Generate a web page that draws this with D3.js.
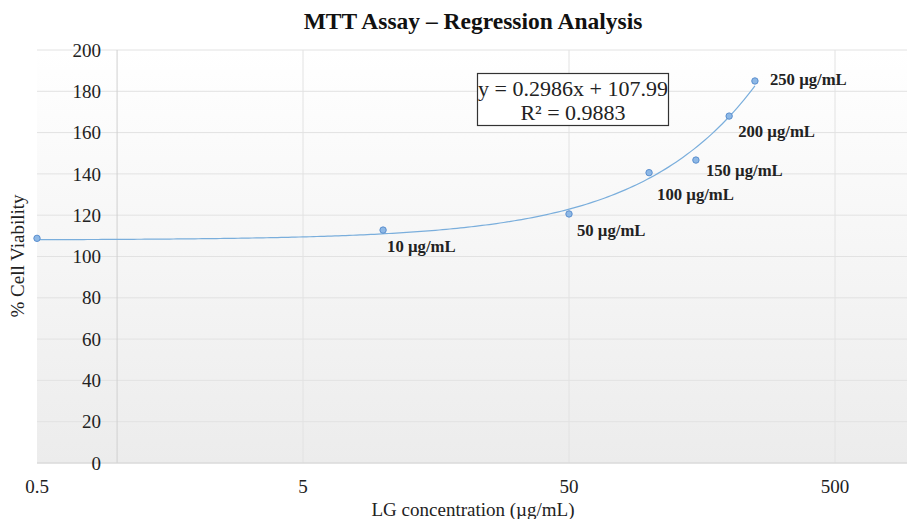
<!DOCTYPE html>
<html>
<head>
<meta charset="utf-8">
<script src="https://cdn.jsdelivr.net/npm/d3@7"></script>
<style>
  body { margin: 0; background: #fff; }
  svg { display: block; font-family: "Liberation Serif", "Times New Roman", serif; }
</style>
</head>
<body>
<script>
// MTT assay - viability vs concentration, log x axis

var concentrations = [0.5, 10, 50, 100, 150, 200, 250];
var viability = [108.8, 112.8, 120.6, 140.6, 146.7, 168.0, 185.0];
var pointLabels = ["", "10 µg/mL", "50 µg/mL", "100 µg/mL", "150 µg/mL", "200 µg/mL", "250 µg/mL"];
var xTicks = [0.5, 5, 50, 500];
var yTicks = [0, 20, 40, 60, 80, 100, 120, 140, 160, 180, 200];
var slope = 0.2986, intercept = 107.99, r2 = 0.9883;

var width = 907, height = 519;
var plotLeft = 37, plotTop = 50, plotBottom = 463;

var svg = d3.select("body").append("svg")
    .attr("width", width)
    .attr("height", height);

var x = d3.scaleLog().domain([0.5, 5000]).range([plotLeft, plotLeft + 4 * 266]);
var y = d3.scaleLinear().domain([0, 200]).range([plotBottom, plotTop]);

var defs = svg.append("defs");
var grad = defs.append("linearGradient")
    .attr("id", "bg").attr("x1", 0).attr("y1", 0).attr("x2", 0).attr("y2", 1);
grad.append("stop").attr("offset", "0%").attr("stop-color", "#ffffff");
grad.append("stop").attr("offset", "100%").attr("stop-color", "#ececec");

svg.append("rect")
    .attr("x", plotLeft).attr("y", plotTop)
    .attr("width", width - plotLeft).attr("height", plotBottom - plotTop)
    .attr("fill", "url(#bg)");

// horizontal gridlines
svg.append("g").selectAll("line")
  .data(yTicks)
  .enter().append("line")
    .attr("x1", plotLeft).attr("x2", width)
    .attr("y1", function(d) { return y(d); })
    .attr("y2", function(d) { return y(d); })
    .attr("stroke", "#e2e2e2").attr("stroke-width", 1);

// vertical gridlines
svg.append("g").selectAll("line")
  .data(xTicks.slice(1))
  .enter().append("line")
    .attr("x1", function(d) { return x(d); })
    .attr("x2", function(d) { return x(d); })
    .attr("y1", plotTop).attr("y2", plotBottom)
    .attr("stroke", "#e2e2e2").attr("stroke-width", 1);

// value axis crosses at x = 1
svg.append("line")
    .attr("x1", x(1)).attr("x2", x(1))
    .attr("y1", plotTop).attr("y2", plotBottom)
    .attr("stroke", "#d0d0d0");

svg.append("line")
    .attr("x1", plotLeft).attr("x2", width)
    .attr("y1", plotBottom).attr("y2", plotBottom)
    .attr("stroke", "#d6d6d6");

// y tick labels
svg.append("g").selectAll("text")
  .data(yTicks)
  .enter().append("text")
    .attr("x", x(1) - 16)
    .attr("y", function(d) { return y(d); })
    .attr("dy", "0.35em")
    .attr("text-anchor", "end")
    .attr("font-size", 19)
    .attr("fill", "#222")
    .text(function(d) { return d; });

// x tick labels
svg.append("g").selectAll("text")
  .data(xTicks)
  .enter().append("text")
    .attr("x", function(d) { return x(d); })
    .attr("y", 493)
    .attr("text-anchor", "middle")
    .attr("font-size", 19)
    .attr("fill", "#222")
    .text(function(d) { return d; });

svg.append("text")
    .attr("x", 473).attr("y", 29)
    .attr("text-anchor", "middle")
    .attr("font-size", 23.5)
    .attr("font-weight", "bold")
    .attr("fill", "#111")
    .text("MTT Assay – Regression Analysis");

svg.append("text")
    .attr("x", 473).attr("y", 516)
    .attr("text-anchor", "middle")
    .attr("font-size", 19)
    .attr("fill", "#222")
    .text("LG concentration (µg/mL)");

svg.append("text")
    .attr("transform", "translate(24,256) rotate(-90)")
    .attr("text-anchor", "middle")
    .attr("font-size", 19)
    .attr("fill", "#222")
    .text("% Cell Viability");

// linear trendline drawn over log axis
var trendX = d3.range(0, 201).map(function(i) {
  return Math.exp(Math.log(0.5) + i / 200 * (Math.log(250) - Math.log(0.5)));
});
var line = d3.line()
    .x(function(d) { return x(d); })
    .y(function(d) { return y(slope * d + intercept); });

svg.append("path")
    .datum(trendX)
    .attr("d", line)
    .attr("fill", "none")
    .attr("stroke", "#7aaedc")
    .attr("stroke-width", 1.2);

var pts = concentrations.map(function(c, i) {
  return {c: c, v: viability[i], label: pointLabels[i]};
});

svg.append("g").selectAll("circle")
  .data(pts)
  .enter().append("circle")
    .attr("cx", function(d) { return x(d.c); })
    .attr("cy", function(d) { return y(d.v); })
    .attr("r", 3.2)
    .attr("fill", "#8db8e6")
    .attr("stroke", "#5b8fcf")
    .attr("stroke-width", 1);

var labelOffsets = [[0, 0], [4, 22], [8, 22.5], [8, 27.5], [10, 16], [9, 20.5], [15, 4]];
svg.append("g").selectAll("text")
  .data(pts)
  .enter().append("text")
    .attr("x", function(d, i) { return x(d.c) + labelOffsets[i][0]; })
    .attr("y", function(d, i) { return y(d.v) + labelOffsets[i][1]; })
    .attr("font-size", 16.7)
    .attr("font-weight", "bold")
    .attr("fill", "#222")
    .text(function(d) { return d.label; });

// equation box
svg.append("rect")
    .attr("x", 477.5).attr("y", 73.5)
    .attr("width", 191).attr("height", 52)
    .attr("fill", "#fff")
    .attr("stroke", "#333").attr("stroke-width", 1.2);

svg.append("text")
    .attr("x", 573).attr("y", 96)
    .attr("text-anchor", "middle")
    .attr("font-size", 22)
    .attr("fill", "#222")
    .text("y = " + slope + "x + " + intercept);

svg.append("text")
    .attr("x", 573).attr("y", 120)
    .attr("text-anchor", "middle")
    .attr("font-size", 22)
    .attr("fill", "#222")
    .text("R² = " + r2);
</script>
</body>
</html>
